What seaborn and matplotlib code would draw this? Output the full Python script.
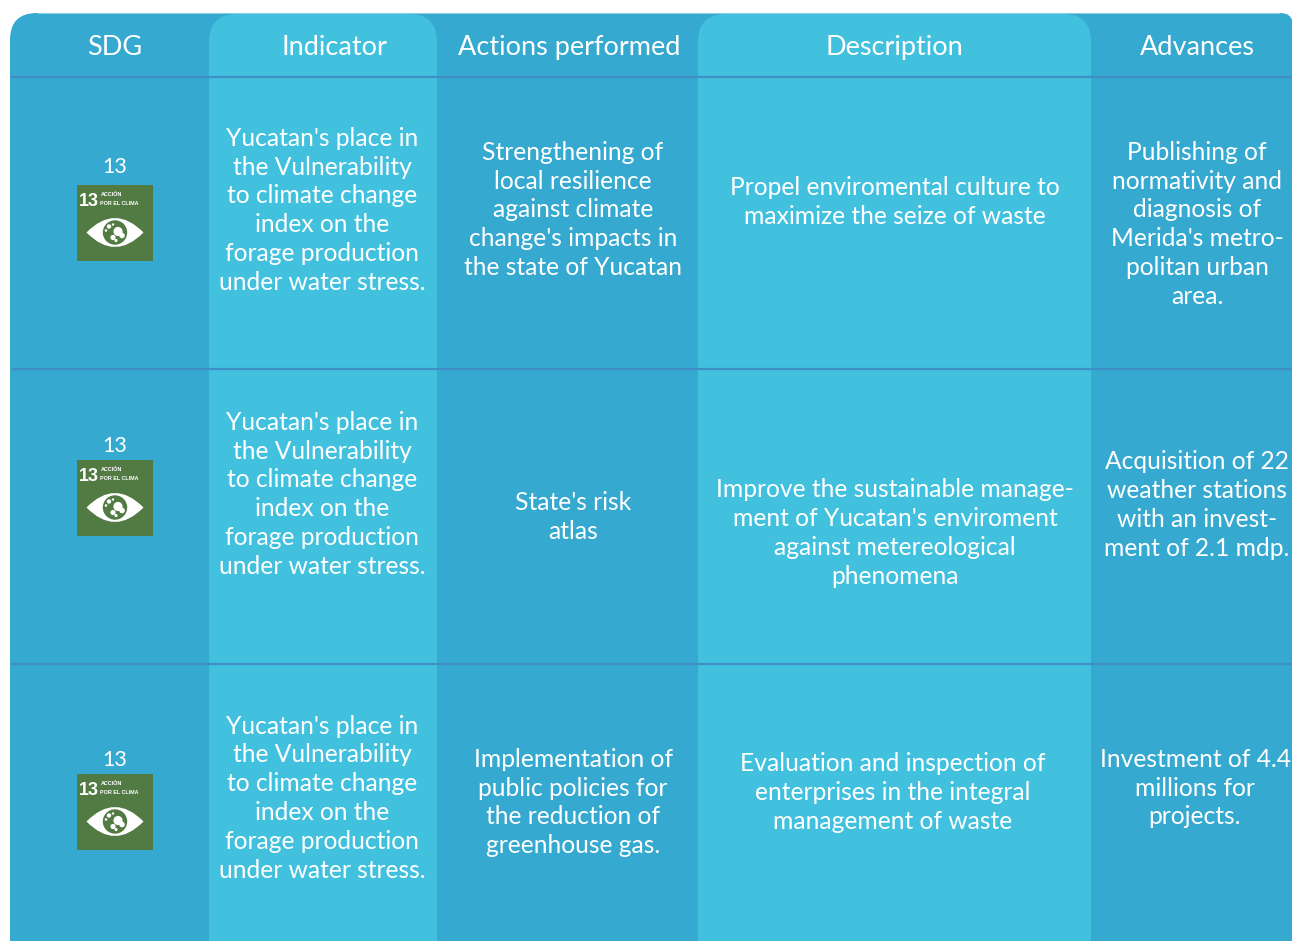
import matplotlib
matplotlib.use("Agg")
import matplotlib.pyplot as plt
from matplotlib.path import Path
from matplotlib.patches import PathPatch, Rectangle, Circle
import seaborn as sns

# ---- content ----
headers = ["SDG", "Indicator", "Actions performed", "Description", "Advances"]
sdg_labels = ["13", "13", "13"]
indicator = ["Yucatan's place in", "the Vulnerability", "to climate change",
             "index on the", "forage production", "under water stress."]
actions = [
    ["Strengthening of", "local resilience", "against climate",
     "change's impacts in", "the state of Yucatan"],
    ["State's risk", "atlas"],
    ["Implementation of", "public policies for", "the reduction of", "greenhouse gas."],
]
descriptions = [
    ["Propel enviromental culture to", "maximize the seize of waste"],
    ["Improve the sustainable manage-", "ment of Yucatan's enviroment",
     "against metereological", "phenomena"],
    ["Evaluation and inspection of", "enterprises in the integral", "management of waste"],
]
advances = [
    ["Publishing of", "normativity and", "diagnosis of", "Merida's metro-",
     "politan urban", "area."],
    ["Acquisition of 22", "weather stations", "with an invest-", "ment of 2.1 mdp."],
    ["Investment of 4.4", "millions for", "projects."],
]

DARK, LIGHT, RULE, GREEN = "#35A9CF", "#42C1DF", "#3F8FC6", "#527A43"
FONT = "Lato"
W, H = 1292, 941

sns.set_theme(style="white", rc={"figure.dpi": 100, "savefig.dpi": 100})
plt.rcParams["font.family"] = [FONT, "DejaVu Sans"]

fig = plt.figure(figsize=(W / 100, H / 100), facecolor="white")
ax = fig.add_axes([0, 0, 1, 1])
ax.set_xlim(0, W)
ax.set_ylim(H, 0)
ax.axis("off")


def top_round(x0, x1, y0, y1, rl, rr, **kw):
    verts = [(x0, y1), (x0, y0 + rl), (x0, y0), (x0 + rl, y0), (x1 - rr, y0),
             (x1, y0), (x1, y0 + rr), (x1, y1), (x0, y1)]
    codes = [Path.MOVETO, Path.LINETO, Path.CURVE3, Path.CURVE3, Path.LINETO,
             Path.CURVE3, Path.CURVE3, Path.LINETO, Path.CLOSEPOLY]
    ax.add_patch(PathPatch(Path(verts, codes), lw=0, **kw))


top_round(10, 1293, 13, H, 27, 13, facecolor=DARK, zorder=1)
ax.plot([38, 1279], [13.3, 13.3], color="#8CCFE4", lw=0.8, zorder=1.5)
top_round(209, 437, 14, H, 28, 28, facecolor=LIGHT, zorder=2)
top_round(698, 1091, 14, H, 28, 28, facecolor=LIGHT, zorder=2)

for y, x0 in [(77, 10), (369, 12), (664, 10)]:
    sns.lineplot(x=[x0, W], y=[y, y], color=RULE, lw=1.6, ax=ax, zorder=3,
                 legend=False, errorbar=None, solid_capstyle="butt")
ax.set_xlim(0, W)
ax.set_ylim(H, 0)
ax.set_xlabel("")
ax.set_ylabel("")


def block(lines, x, y, size=17.7):
    for i, s in enumerate(lines):
        ax.text(x, y + 0.7 + i * 28.8, s, color="white", fontsize=size, ha="center",
                va="baseline", zorder=5)


def icon(x, y, s=76):
    ax.add_patch(Rectangle((x, y), s, s, facecolor=GREEN, lw=0, zorder=4))
    ax.text(x + 11.5, y + 21, "13", color="white", fontsize=13, fontweight="bold",
            ha="center", va="baseline", zorder=5, family="Liberation Sans")
    ax.text(x + 23.5, y + 11, "ACCIÓN", color="white", fontsize=3.9, fontweight="bold",
            va="baseline", zorder=5, family="Liberation Sans")
    ax.text(x + 23.5, y + 20, "POR EL CLIMA", color="white", fontsize=3.9, fontweight="bold",
            va="baseline", zorder=5, family="Liberation Sans")
    cx, cy = x + 38, y + 47.5
    hw, hh = 28.5, 29
    eye = [(cx - hw, cy), (cx, cy - hh), (cx + hw, cy), (cx, cy + hh), (cx - hw, cy)]
    codes = [Path.MOVETO, Path.CURVE3, Path.CURVE3, Path.CURVE3, Path.CURVE3]
    ax.add_patch(PathPatch(Path(eye, codes), facecolor="white", lw=0, zorder=5))
    ax.add_patch(Circle((cx, cy), 12.2, facecolor=GREEN, lw=0, zorder=6))
    for dx, dy, r in [(-6, -6, 2.2), (-9, -2, 1.3), (-2, -8, 1.2), (3, -1, 4.6),
                      (7, 3, 2.8), (-2, 5, 2.6), (1, 8, 1.6)]:
        ax.add_patch(Circle((cx + dx, cy + dy), r, facecolor="white", lw=0, zorder=7))


for label, x, in zip(headers, [115, 334, 569, 894, 1197]):
    ax.text(x, 54.5, label, color="white", fontsize=19.5, ha="center", va="baseline", zorder=5)

for lab, base, top in zip(sdg_labels, [172.5, 451.5, 765.5], [185, 460, 774]):
    ax.text(115, base, lab, color="white", fontsize=15.5, ha="center", va="baseline", zorder=5)
    icon(77, top)

for y in [145, 429, 733]:
    block(indicator, 322, y)
for lines, y in zip(actions, [159, 509.5, 766]):
    block(lines, 573, y)
for lines, x, y in zip(descriptions, [895, 895, 893], [194, 496.5, 770.5]):
    block(lines, x, y)
for lines, x, y in zip(advances, [1197, 1197, 1195], [159, 468.5, 766]):
    block(lines, x, y)

fig.savefig("out.png", dpi=100, facecolor="white")
